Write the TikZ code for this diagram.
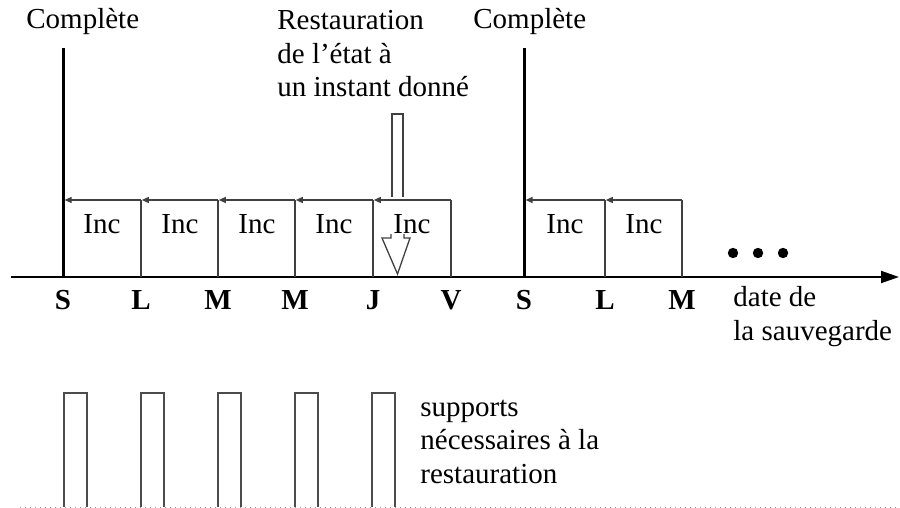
\documentclass[tikz,border=0pt]{standalone}
\usepackage{fontspec}
\setmainfont{Liberation Serif}
\usetikzlibrary{arrows.meta}
\begin{document}
\begin{tikzpicture}
[x=0.5pt,y=-0.5pt,
  textdecorate/.style={font=\fontsize{14.5}{16.75}\selectfont,inner sep=0pt,align=left},
  daydecorate/.style={font=\fontsize{14.5}{16.75}\selectfont\bfseries,inner sep=0pt},
  fulldecorate/.style={-,line width=1.5pt},
  incdecorate/.style={-,line width=0.65pt,draw=black!75},
  linkdecorate/.style={-{Triangle[length=3.5pt,width=3pt]},line width=0.65pt,draw=black!75,shorten >=0.4pt},
  axisdecorate/.style={-{Triangle[length=9pt,width=6pt]},line width=1pt},
  suppdecorate/.style={-,line width=0.65pt,draw=black!70}]
\useasboundingbox (0,0) rectangle (900,508);
%%% time axis
% points on the axis
\coordinate (x0) at (11,277);
\coordinate (x1) at (899,277);
\coordinate (s1) at (63,277);
\coordinate (l1) at (141,277);
\coordinate (m1) at (218,277);
\coordinate (m2) at (295,277);
\coordinate (j1) at (373,277);
\coordinate (v1) at (451,277);
\coordinate (s2) at (524,277);
\coordinate (l2) at (605,277);
\coordinate (m3) at (682,277);
% tops of the lines
\coordinate (s1h) at (63,48);
\coordinate (s2h) at (524,48);
\coordinate (s1t) at (63,200);
\coordinate (l1t) at (141,200);
\coordinate (m1t) at (218,200);
\coordinate (m2t) at (295,200);
\coordinate (j1t) at (373,200);
\coordinate (v1t) at (451,200);
\coordinate (s2t) at (524,200);
\coordinate (l2t) at (605,200);
\coordinate (m3t) at (682,200);
\draw[axisdecorate] (x0) -- (x1);
%
%%% full backups
\draw[fulldecorate] (s1) -- (s1h);
\draw[fulldecorate] (s2) -- (s2h);
\node (c1) at (26,29) [textdecorate,anchor=base west] {Complète};
\node (c2) at (473,29) [textdecorate,anchor=base west] {Complète};
%
%%% incremental backups
\path
(l1) edge[incdecorate] (l1t)
(m1) edge[incdecorate] (m1t)
(m2) edge[incdecorate] (m2t)
(j1) edge[incdecorate] (j1t)
(v1) edge[incdecorate] (v1t)
(l2) edge[incdecorate] (l2t)
(m3) edge[incdecorate] (m3t);
\path
(v1t) edge[linkdecorate] (j1t)
(j1t) edge[linkdecorate] (m2t)
(m2t) edge[linkdecorate] (m1t)
(m1t) edge[linkdecorate] (l1t)
(l1t) edge[linkdecorate,shorten >=0.8pt] (s1t)
(m3t) edge[linkdecorate] (l2t)
(l2t) edge[linkdecorate,shorten >=0.8pt] (s2t);
\foreach \x/\n in {102/i1,180/i2,257/i3,334/i4,412/i5,565/i6,644/i7}
  \node (\n) at (\x,224) [textdecorate] {Inc};
%
%%% days
\foreach \x/\d/\n in {63/S/d1,141/L/d2,218/M/d3,295/M/d4,373/J/d5,451/V/d6,524/S/d7,605/L/d8,682/M/d9}
  \node (\n) at (\x,309) [daydecorate,anchor=base] {\d};
\node (date) at (733,340) [textdecorate,anchor=base west] {date de\\la sauvegarde};
% more days
\foreach \x in {733,758,783}
  \fill (\x,253) circle [radius=2.6pt];
%
%%% restore point
\node (rest) at (277,97) [textdecorate,anchor=base west] {Restauration\\de l’état à\\un instant donné};
\draw[incdecorate] (392,197) -- (392,114) -- (403,114) -- (403,197);
\draw[incdecorate] (391,234) -- (391,238) -- (382,238) -- (397.5,274) -- (410,238) -- (404,238) -- (404,234);
%
%%% media
\foreach \x in {64,141,218,295,372}
  \draw[suppdecorate] (\x,507) -- (\x,393) -- (\x+23,393) -- (\x+23,507);
\node (supp) at (420,483) [textdecorate,anchor=base west] {supports\\nécessaires à la\\restauration};
\draw[dotted,black!45,line width=0.5pt] (20,507) -- (900,507);
\end{tikzpicture}
\end{document}
